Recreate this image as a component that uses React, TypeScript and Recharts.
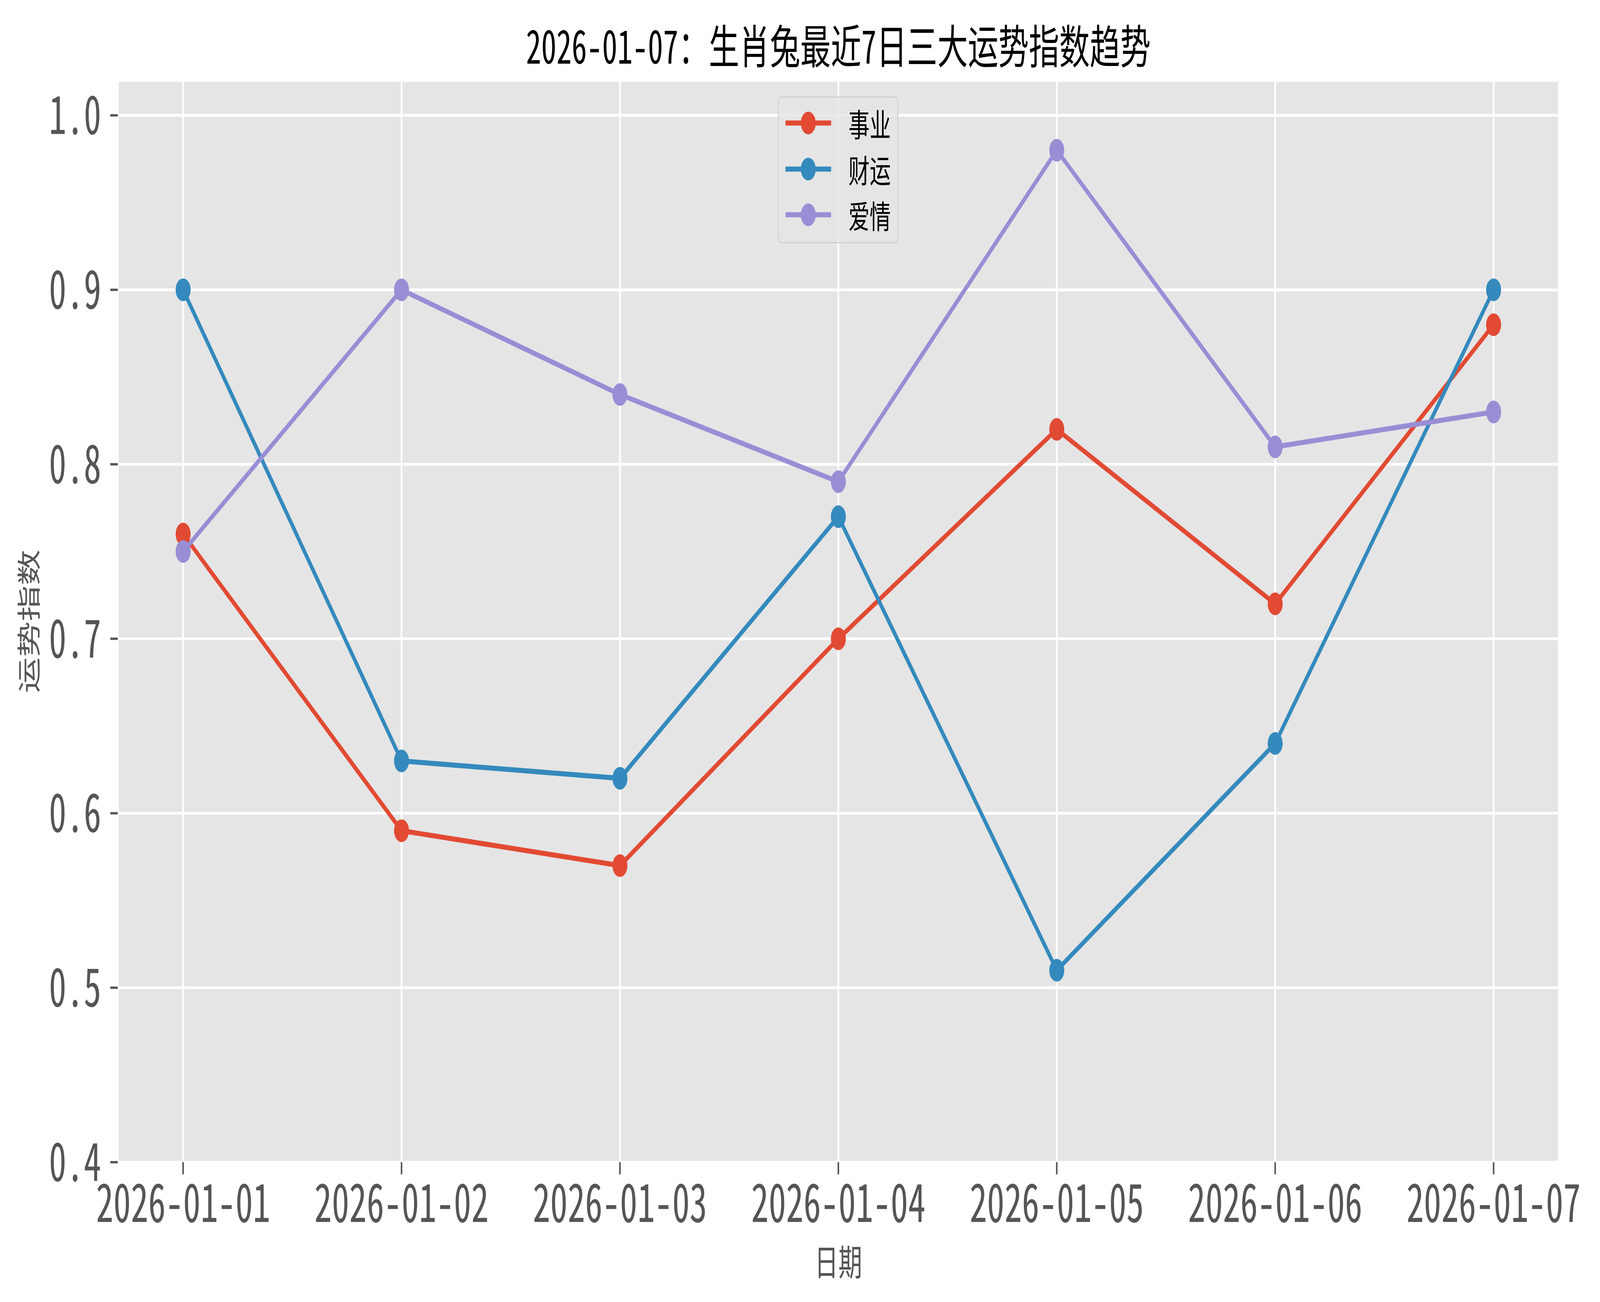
import React from 'react';
import { LineChart, Line, XAxis, YAxis, CartesianGrid, Legend, Label } from 'recharts';

const dates = ['2026-01-01', '2026-01-02', '2026-01-03', '2026-01-04', '2026-01-05', '2026-01-06', '2026-01-07'];
const career = [0.76, 0.59, 0.57, 0.70, 0.82, 0.72, 0.88];
const wealth = [0.90, 0.63, 0.62, 0.77, 0.51, 0.64, 0.90];
const love = [0.75, 0.90, 0.84, 0.79, 0.98, 0.81, 0.83];
const yTicks = [0.4, 0.5, 0.6, 0.7, 0.8, 0.9, 1.0];

const seriesNames = ['事业', '财运', '爱情'];
const seriesColors = ['#E24A33', '#348ABD', '#988ED5'];

const data = dates.map((d, i) => ({ date: d, 事业: career[i], 财运: wealth[i], 爱情: love[i] }));

// Reference canvas size; the browser viewport is clamped to 4096 px wide,
// so the whole drawing is fitted to the viewport width.
const W = 6195;
const H = 3334;
const VIEW_W = 4096;
const Y_AXIS_W = 400;
const X_AXIS_H = 300;
const FONT = "'Noto Sans CJK SC', 'Noto Sans', sans-serif";

const LegendBox = (props: any) => {
  const payload = [...(props.payload || [])].sort(
    (a: any, b: any) => seriesNames.indexOf(a.value) - seriesNames.indexOf(b.value)
  );
  return (
    <div
      style={{
        position: 'relative',
        width: 466,
        height: 376,
        boxSizing: 'border-box',
        border: '3px solid #cfcfcf',
        borderRadius: 14,
        background: 'rgba(229,229,229,0.8)',
        fontFamily: FONT,
      }}
    >
      {payload.map((p: any, i: number) => (
        <div
          key={p.value}
          style={{
            position: 'absolute',
            left: 0,
            top: 65 + i * 117.5 - 50,
            height: 100,
            width: '100%',
          }}
        >
          <svg width={200} height={100} style={{ position: 'absolute', left: 26, top: 0 }}>
            <line x1={0} y1={50} x2={177} y2={50} stroke={p.color} strokeWidth={13} />
            <circle cx={88.5} cy={50} r={29} fill={p.color} />
          </svg>
          <span
            style={{
              position: 'absolute',
              left: 270,
              top: 0,
              lineHeight: '100px',
              fontSize: 82,
              color: '#000',
            }}
          >
            {p.value}
          </span>
        </div>
      ))}
    </div>
  );
};

export default function App() {
  return (
    <div
      style={{
        position: 'absolute',
        left: 0,
        top: 0,
        width: W,
        height: H,
        background: '#ffffff',
        fontFamily: FONT,
        fontFeatureSettings: '"hwid"',
        transform: `scaleX(${VIEW_W / W})`,
        transformOrigin: '0 0',
      }}
    >
      <div
        style={{
          position: 'absolute',
          left: 456,
          top: 112 - 70,
          width: 5580,
          height: 140,
          lineHeight: '140px',
          textAlign: 'center',
          fontSize: 118,
          color: '#000',
          zIndex: 2,
        }}
      >
        2026-01-07：生肖兔最近7日三大运势指数趋势
      </div>
      <LineChart
        width={W}
        height={H}
        data={data}
        margin={{ top: 206, right: W - 6036, bottom: H - 2976 - X_AXIS_H, left: 456 - Y_AXIS_W }}
      >
        <CartesianGrid stroke="#ffffff" strokeWidth={7} fill="#E5E5E5" fillOpacity={1} />
        <XAxis
          dataKey="date"
          type="category"
          interval={0}
          height={X_AXIS_H}
          padding={{ left: 253, right: 253 }}
          axisLine={false}
          tickSize={31}
          tickMargin={26}
          tickLine={{ stroke: '#555555', strokeWidth: 6 }}
          tick={{ fill: '#555555', fontSize: 135 }}
        >
          <Label
            content={(p: any) => {
              const vb = p.viewBox;
              return (
                <text
                  x={vb.x + vb.width / 2}
                  y={vb.y + 250}
                  textAnchor="middle"
                  dominantBaseline="central"
                  fill="#555555"
                  fontSize={92}
                >
                  日期
                </text>
              );
            }}
          />
        </XAxis>
        <YAxis
          type="number"
          width={Y_AXIS_W}
          domain={[0.4, 1.02]}
          ticks={yTicks}
          allowDataOverflow
          axisLine={false}
          tickSize={29}
          tickMargin={35}
          tickLine={{ stroke: '#555555', strokeWidth: 6 }}
          tick={{ fill: '#555555', fontSize: 135 }}
          tickFormatter={(v: number) => v.toFixed(1)}
        >
          <Label
            content={(p: any) => {
              const vb = p.viewBox;
              const cx = vb.x + 51;
              const cy = vb.y + vb.height / 2;
              return (
                <text
                  x={cx}
                  y={cy}
                  textAnchor="middle"
                  dominantBaseline="central"
                  fill="#555555"
                  fontSize={92}
                  transform={`rotate(-90, ${cx}, ${cy})`}
                >
                  运势指数
                </text>
              );
            }}
          />
        </YAxis>
        <Legend
          layout="vertical"
          align="center"
          verticalAlign="middle"
          content={<LegendBox />}
          wrapperStyle={{ position: 'absolute', left: 3012, top: 247, width: 466, height: 376 }}
        />
        {seriesNames.map((name, i) => (
          <Line
            key={name}
            type="linear"
            dataKey={name}
            name={name}
            stroke={seriesColors[i]}
            strokeWidth={13}
            dot={{ r: 29, fill: seriesColors[i], stroke: seriesColors[i], strokeWidth: 0 }}
            activeDot={false}
            isAnimationActive={false}
          />
        ))}
      </LineChart>
    </div>
  );
}
